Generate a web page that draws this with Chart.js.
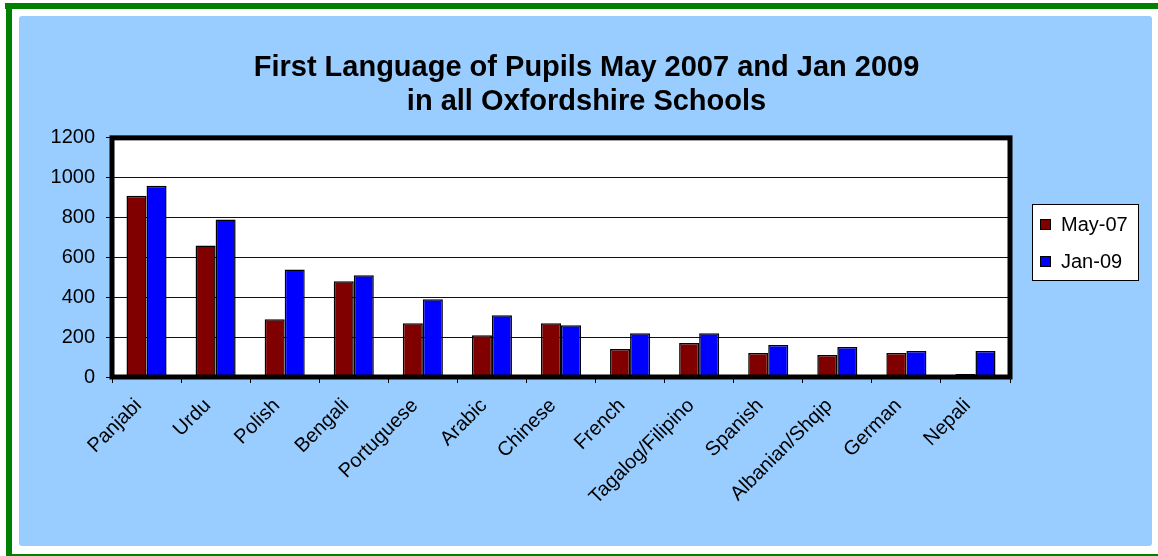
<!DOCTYPE html>
<html>
<head>
<meta charset="utf-8">
<script src="https://cdn.jsdelivr.net/npm/chart.js@4/dist/chart.umd.min.js"></script>
<style>
  html, body { margin: 0; padding: 0; background: #fff; }
  #wrap { width: 1158px; height: 556px; }
</style>
</head>
<body>
<div id="wrap"><canvas id="langChart" width="1158" height="556"></canvas></div>
<script>
const languages = ['Panjabi', 'Urdu', 'Polish', 'Bengali', 'Portuguese', 'Arabic', 'Chinese',
  'French', 'Tagalog/Filipino', 'Spanish', 'Albanian/Shqip', 'German', 'Nepali'];
const may07 = [910, 660, 290, 480, 270, 210, 270, 140, 170, 120, 110, 120, 15];
const jan09 = [960, 790, 540, 510, 390, 310, 260, 220, 220, 160, 150, 130, 130];
const seriesNames = ['May-07', 'Jan-09'];
const titleLines = ['First Language of Pupils May 2007 and Jan 2009', 'in all Oxfordshire Schools'];

const FONT = 'Arial, "Liberation Sans", sans-serif';

// blue panel, green frame and white plot background
const backdrop = {
  id: 'backdrop',
  beforeDraw(chart) {
    const ctx = chart.ctx;
    const a = chart.chartArea;
    ctx.save();
    ctx.fillStyle = '#fff';
    ctx.fillRect(0, 0, chart.width, chart.height);
    ctx.fillStyle = '#008000';
    ctx.fillRect(5, 3, chart.width - 5, 6);
    ctx.fillRect(6, 3, 6, 552);
    ctx.fillRect(6, 554, chart.width - 6, 2);
    ctx.fillStyle = '#99ccff';
    ctx.beginPath();
    ctx.roundRect(19, 16, 1133, 530, 3);
    ctx.fill();
    ctx.fillStyle = '#fff';
    ctx.fillRect(a.left, a.top, a.right - a.left, a.bottom - a.top);
    ctx.restore();
  },
  afterDatasetsDraw(chart) {
    const ctx = chart.ctx;
    const a = chart.chartArea;
    ctx.save();
    ctx.strokeStyle = '#000';
    ctx.lineWidth = 5;
    ctx.strokeRect(a.left, a.top, a.right - a.left, a.bottom - a.top);
    ctx.restore();
  }
};

// boxed legend at the right of the plot
const boxLegend = {
  id: 'boxLegend',
  afterDraw(chart) {
    const ctx = chart.ctx;
    const x = 1032, y = 204, w = 106, h = 76;
    ctx.save();
    ctx.fillStyle = '#fff';
    ctx.fillRect(x, y, w, h);
    ctx.strokeStyle = '#000';
    ctx.lineWidth = 1;
    ctx.strokeRect(x + 0.5, y + 0.5, w, h);
    ctx.font = '20px ' + FONT;
    ctx.textBaseline = 'middle';
    chart.data.datasets.forEach((ds, i) => {
      const cy = y + 21 + i * 37;
      ctx.fillStyle = ds.backgroundColor;
      ctx.fillRect(x + 8, cy - 6, 11, 11);
      ctx.strokeRect(x + 8.5, cy - 5.5, 10, 10);
      ctx.fillStyle = '#000';
      ctx.fillText(ds.label, x + 29, cy);
    });
    ctx.restore();
  }
};

new Chart(document.getElementById('langChart'), {
  type: 'bar',
  data: {
    labels: languages,
    datasets: [
      { label: seriesNames[0], data: may07, backgroundColor: '#800000', borderColor: '#000', borderWidth: 1.5 },
      { label: seriesNames[1], data: jan09, backgroundColor: '#0000ff', borderColor: '#000', borderWidth: 1.5 }
    ]
  },
  options: {
    responsive: false,
    animation: false,
    layout: { padding: { left: 15, top: 0, right: 0, bottom: 0 } },
    datasets: {
      bar: {
        categoryPercentage: 0.58,
        barPercentage: 1
      }
    },
    plugins: {
      legend: { display: false },
      tooltip: { enabled: false },
      title: {
        display: true,
        text: titleLines,
        color: '#000',
        font: { family: FONT, size: 29, weight: 'bold', lineHeight: 1.17 },
        padding: { top: 51, bottom: 19 }
      }
    },
    scales: {
      x: {
        grid: {
          display: true,
          drawOnChartArea: false,
          drawTicks: true,
          tickLength: 6,
          color: '#000',
          offset: true
        },
        border: { display: false },
        ticks: {
          color: '#000',
          font: { family: FONT, size: 20 },
          maxRotation: 45,
          minRotation: 45,
          autoSkip: false,
          padding: 11,
          labelOffset: -8
        },
        afterFit(scale) { scale.height = 179; }
      },
      y: {
        min: 0,
        max: 1200,
        grid: {
          color: '#111',
          lineWidth: 1,
          tickLength: 6,
          tickColor: '#000'
        },
        border: { display: false },
        ticks: {
          stepSize: 200,
          color: '#000',
          font: { family: FONT, size: 20 },
          padding: 11,
          callback: v => String(v)
        },
        afterFit(scale) { scale.width = 97; }
      },
      side: {
        position: 'right',
        display: true,
        grid: { display: false },
        border: { display: false },
        ticks: { display: false },
        afterFit(scale) { scale.width = 148; }
      }
    }
  },
  plugins: [backdrop, boxLegend]
});
</script>
</body>
</html>
